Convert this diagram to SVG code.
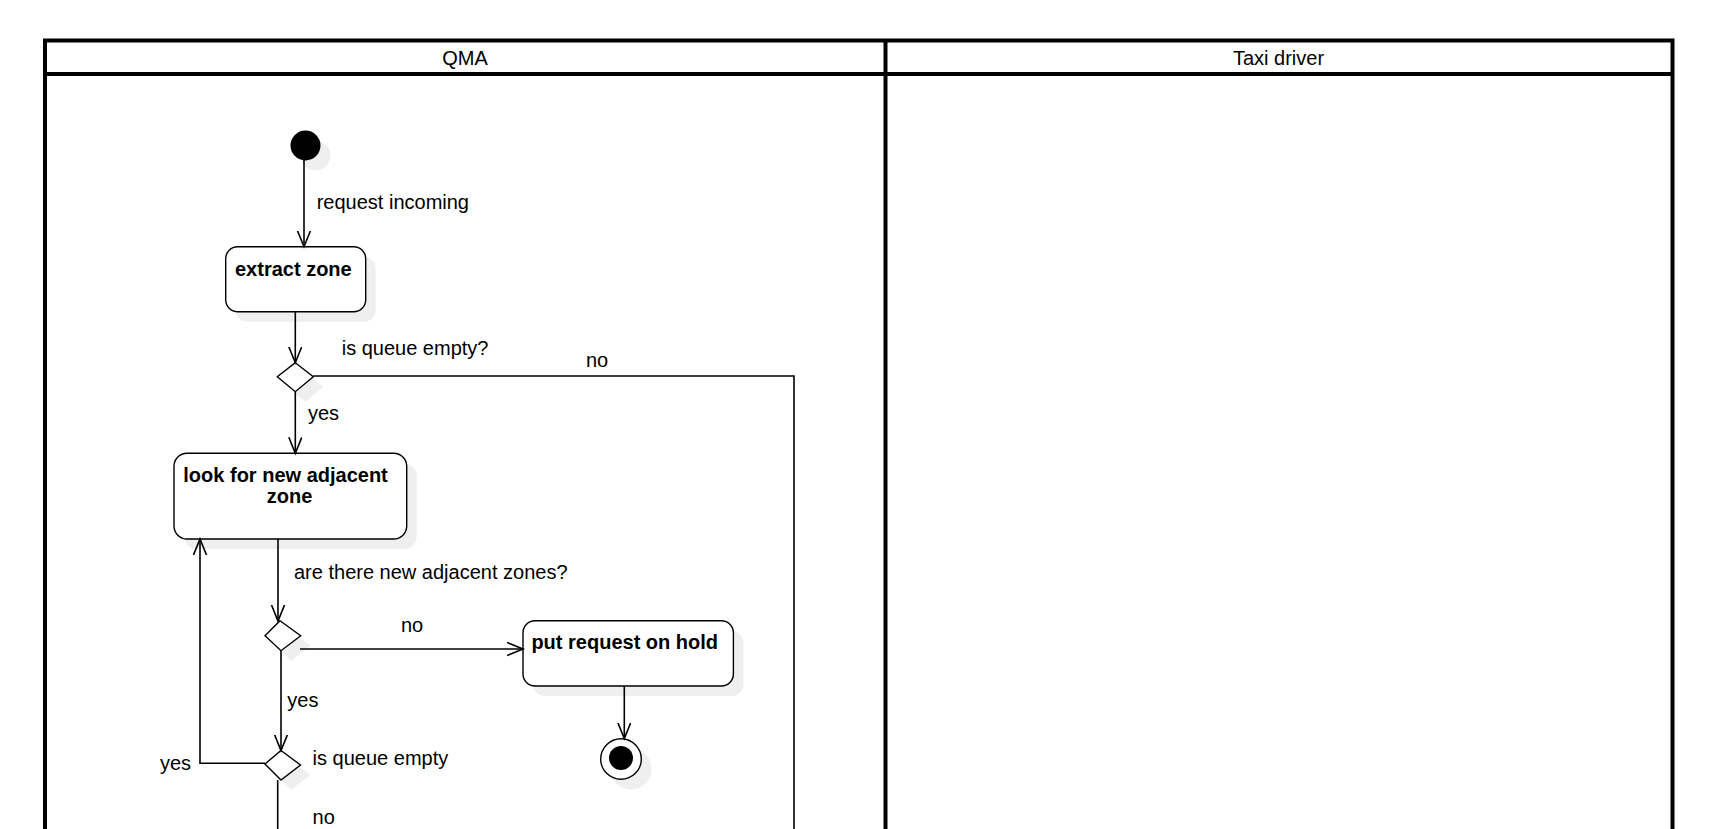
<svg xmlns="http://www.w3.org/2000/svg" width="1725" height="829" viewBox="0 0 1725 829">
<defs>
<style>
.lbl{font-family:"Liberation Sans",Arial,sans-serif;font-size:20px;fill:#000}
.bold{font-family:"Liberation Sans",Arial,sans-serif;font-size:20px;font-weight:bold;fill:#000}
.node{fill:#fff;stroke:#000;stroke-width:1.4}
.shadow{fill:#efefef;stroke:none}
.edge{fill:none;stroke:#000;stroke-width:1.6}
.frame{fill:none;stroke:#000;stroke-width:4}
</style>
<marker id="open" markerWidth="20" markerHeight="16" refX="16" refY="7" orient="auto" markerUnits="userSpaceOnUse" viewBox="0 0 20 16">
<path d="M0,0.5 L16,7 L0,13.5" fill="none" stroke="#000" stroke-width="1.6"/>
</marker>
</defs>
<rect width="1725" height="829" fill="#fff"/>

<g id="pool">
<rect class="frame" x="45" y="40.5" width="1627.5" height="900"/>
<line class="frame" x1="45" y1="74" x2="1672.5" y2="74"/>
<line class="frame" x1="885.5" y1="40.5" x2="885.5" y2="940"/>
<text class="lbl" x="465" y="65" text-anchor="middle">QMA</text>
<text class="lbl" x="1278.5" y="65" text-anchor="middle">Taxi driver</text>
</g>

<g id="start">
<circle class="shadow" cx="315.5" cy="155.5" r="15"/>
<circle cx="305.5" cy="145.5" r="15" fill="#000"/>
</g>

<g id="extract-zone">
<rect class="shadow" x="235.7" y="256.7" width="140" height="65" rx="12"/>
<rect class="node" x="225.7" y="246.7" width="140" height="65" rx="12"/>
<text class="bold" x="235" y="276">extract zone</text>
</g>

<g id="decision-queue-empty">
<polygon class="shadow" points="305.3,372.7 323.3,386.7 305.3,401.7 287.3,386.7"/>
<polygon class="node" points="295.3,362.7 313.3,376.7 295.3,391.7 277.3,376.7"/>
</g>

<g id="look-adjacent">
<rect class="shadow" x="184" y="463.3" width="232.7" height="85.7" rx="13"/>
<rect class="node" x="174" y="453.3" width="232.7" height="85.7" rx="13"/>
<text class="bold" x="183.3" y="482">look for new adjacent</text>
<text class="bold" x="289.5" y="502.5" text-anchor="middle">zone</text>
</g>

<g id="decision-adjacent">
<polygon class="shadow" points="290,630.7 310.7,645.7 291,660.7 275,645.7"/>
<polygon class="node" points="280,620.7 300.7,635.7 281,650.7 265,635.7"/>
</g>

<g id="put-on-hold">
<rect class="shadow" x="533" y="630.7" width="210.4" height="65.3" rx="12"/>
<rect class="node" x="523" y="620.7" width="210.4" height="65.3" rx="12"/>
<text class="bold" x="531.4" y="649">put request on hold</text>
</g>

<g id="end">
<circle class="shadow" cx="631" cy="769" r="20.5"/>
<circle class="node" cx="621" cy="759" r="20.3"/>
<circle cx="621" cy="758" r="12" fill="#000"/>
</g>

<g id="decision-queue-empty-2">
<polygon class="shadow" points="291,760.5 310.5,775 291,790 275,774"/>
<polygon class="node" points="281,750.5 300.5,765 281,780 265,764"/>
</g>

<g id="connectors">
<line class="edge" x1="304" y1="160" x2="304" y2="246.7" marker-end="url(#open)"/>
<line class="edge" x1="295.3" y1="311.7" x2="295.3" y2="362.7" marker-end="url(#open)"/>
<polyline class="edge" points="313.3,376 794,376 794,840"/>
<line class="edge" x1="295.3" y1="391.7" x2="295.3" y2="453.3" marker-end="url(#open)"/>
<line class="edge" x1="278" y1="539" x2="278" y2="621" marker-end="url(#open)"/>
<line class="edge" x1="300" y1="649" x2="523" y2="649" marker-end="url(#open)"/>
<line class="edge" x1="281" y1="650.7" x2="281" y2="750.5" marker-end="url(#open)"/>
<polyline class="edge" points="265,763.3 200,763.3 200,539" marker-end="url(#open)"/>
<line class="edge" x1="277.7" y1="780" x2="277.7" y2="840"/>
<line class="edge" x1="624.3" y1="686" x2="624.3" y2="738.5" marker-end="url(#open)"/>

<text class="lbl" x="316.7" y="209">request incoming</text>
<text class="lbl" x="341.7" y="355">is queue empty?</text>
<text class="lbl" x="586" y="367">no</text>
<text class="lbl" x="308" y="420">yes</text>
<text class="lbl" x="294" y="579">are there new adjacent zones?</text>
<text class="lbl" x="401" y="632">no</text>
<text class="lbl" x="287.3" y="707">yes</text>
<text class="lbl" x="312.6" y="765">is queue empty</text>
<text class="lbl" x="160" y="770">yes</text>
<text class="lbl" x="312.6" y="824">no</text>
</g>
</svg>
